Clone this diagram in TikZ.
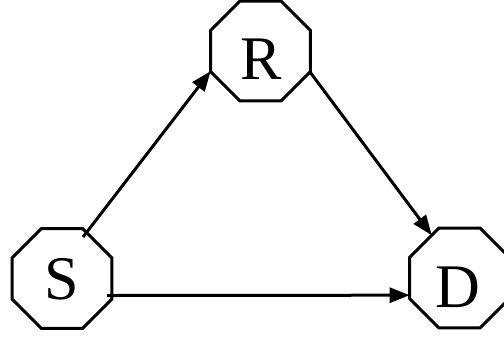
\documentclass[tikz,border=0pt]{standalone}
\usepackage{fontspec}
\setmainfont{Liberation Serif}
\usetikzlibrary{shapes.geometric,arrows.meta,calc}
\begin{document}
\begin{tikzpicture}[x=1bp,y=-1bp,
  octa/.style={regular polygon,regular polygon sides=8,minimum size=108bp,
    draw=black,line width=3bp,inner sep=0pt,outer sep=0pt,fill=white},
  lbl/.style={inner sep=0pt,font=\fontsize{62bp}{62bp}\selectfont},
  conn/.style={line width=3bp,-{Triangle[length=20bp,width=15bp]}}]
\useasboundingbox (0,0) rectangle (504,343);
\node[octa] (R) at (260.5,51) {};
\node[octa] (S) at (62,278.5) {};
\node[octa] (D) at (459.5,278) {};
\node[lbl] (Rt) at (261,59) {R};
\node[lbl] (St) at (62,279) {S};
\node[lbl] (Dt) at (458,287) {D};
\draw[conn] ([shift={(21,-41.5)}]S.center) -- (R.202.5);
\draw[conn] (R.337.5) -- (D.123);
\draw[conn] ([shift={(45,17)}]S.center) -- (D.199);
\end{tikzpicture}
\end{document}
